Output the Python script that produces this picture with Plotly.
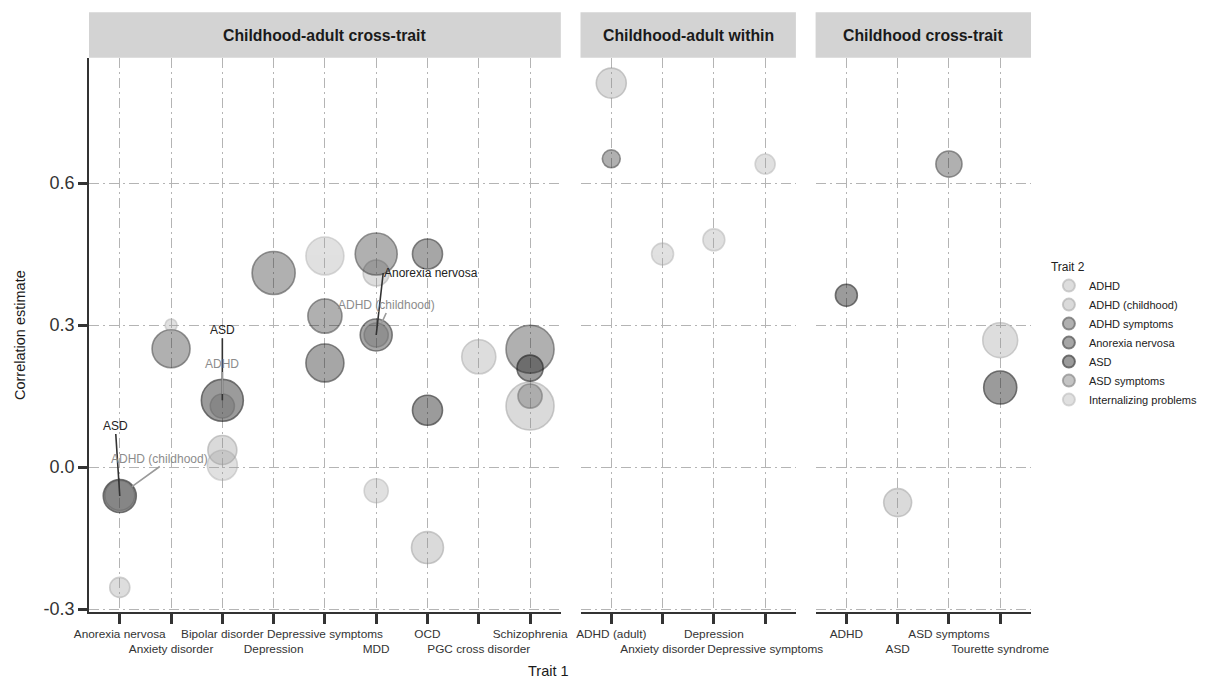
import plotly.graph_objects as go

# ---------------- data ----------------
panels = ["Childhood-adult cross-trait", "Childhood-adult within", "Childhood cross-trait"]
trait1_cross = ["Anorexia nervosa", "Anxiety disorder", "Bipolar disorder", "Depression",
                "Depressive symptoms", "MDD", "OCD", "PGC cross disorder", "Schizophrenia"]
trait1_within = ["ADHD (adult)", "Anxiety disorder", "Depression", "Depressive symptoms"]
trait1_child = ["ADHD", "ASD", "ASD symptoms", "Tourette syndrome"]
trait2_levels = ["ADHD", "ADHD (childhood)", "ADHD symptoms", "Anorexia nervosa",
                 "ASD", "ASD symptoms", "Internalizing problems"]

panel = [0, 0, 0,
         0, 0,
         0, 0, 0, 0,
         0,
         0, 0, 0,
         0, 0, 0, 0, 0,
         0, 0, 0,
         0,
         0, 0, 0, 0,
         1, 1, 1, 1, 1,
         2, 2, 2, 2, 2]
trait1 = ["Anorexia nervosa", "Anorexia nervosa", "Anorexia nervosa",
          "Anxiety disorder", "Anxiety disorder",
          "Bipolar disorder", "Bipolar disorder", "Bipolar disorder", "Bipolar disorder",
          "Depression",
          "Depressive symptoms", "Depressive symptoms", "Depressive symptoms",
          "MDD", "MDD", "MDD", "MDD", "MDD",
          "OCD", "OCD", "OCD",
          "PGC cross disorder",
          "Schizophrenia", "Schizophrenia", "Schizophrenia", "Schizophrenia",
          "ADHD (adult)", "ADHD (adult)", "Anxiety disorder", "Depression", "Depressive symptoms",
          "ADHD", "ASD", "ASD symptoms", "Tourette syndrome", "Tourette syndrome"]
trait2 = ["ADHD", "ADHD (childhood)", "ASD",
          "ADHD symptoms", "Internalizing problems",
          "ADHD (childhood)", "Internalizing problems", "ASD", "ADHD",
          "ADHD symptoms",
          "Internalizing problems", "ADHD symptoms", "Anorexia nervosa",
          "ADHD symptoms", "ADHD", "Anorexia nervosa", "ADHD (childhood)", "Internalizing problems",
          "Anorexia nervosa", "ASD", "ADHD (childhood)",
          "ADHD",
          "ADHD symptoms", "ADHD (childhood)", "ASD", "ASD symptoms",
          "ADHD (childhood)", "ADHD symptoms", "Internalizing problems", "Internalizing problems",
          "Internalizing problems",
          "ASD", "ADHD (childhood)", "ADHD symptoms", "ADHD", "ASD"]
estimate = [-0.254, -0.06, -0.061,
            0.25, 0.30,
            0.036, 0.004, 0.141, 0.129,
            0.41,
            0.446, 0.319, 0.22,
            0.45, 0.41, 0.279, 0.279, -0.05,
            0.45, 0.12, -0.17,
            0.233,
            0.249, 0.129, 0.209, 0.15,
            0.811, 0.651, 0.45, 0.48, 0.64,
            0.363, -0.075, 0.64, 0.268, 0.168]
weight = [4.0, 9.0, 10.9,
          14.4, 1.44,
          8.4, 9.0, 17.6, 5.8,
          18.5,
          14.4, 11.6, 14.4,
          17.6, 6.8, 10.2, 5.8, 5.8,
          9.0, 9.0, 10.2,
          11.6,
          23.0, 23.0, 6.8, 5.8,
          9.0, 3.2, 4.8, 4.8, 4.0,
          4.8, 7.8, 6.8, 12.2, 10.9]

# labelled (overlapping) points: trait1, trait2, estimate
labels_t1 = ["Anorexia nervosa", "Anorexia nervosa", "Bipolar disorder", "Bipolar disorder", "MDD", "MDD"]
labels_t2 = ["ASD", "ADHD (childhood)", "ASD", "ADHD", "Anorexia nervosa", "ADHD (childhood)"]
labels_y = [-0.061, -0.06, 0.141, 0.129, 0.279, 0.279]

# ---------------- styles ----------------
FONT = "Liberation Sans, Arial, Helvetica, sans-serif"
fill = {
    "ADHD": "rgba(150,150,150,0.45)",
    "ADHD (childhood)": "rgba(140,140,140,0.45)",
    "ADHD symptoms": "rgba(40,40,40,0.52)",
    "Anorexia nervosa": "rgba(30,30,30,0.56)",
    "ASD": "rgba(20,20,20,0.60)",
    "ASD symptoms": "rgba(90,90,90,0.50)",
    "Internalizing problems": "rgba(160,160,160,0.45)",
}
edge = {
    "ADHD": "rgba(150,150,150,0.65)",
    "ADHD (childhood)": "rgba(140,140,140,0.65)",
    "ADHD symptoms": "rgba(40,40,40,0.72)",
    "Anorexia nervosa": "rgba(25,25,25,0.78)",
    "ASD": "rgba(10,10,10,0.80)",
    "ASD symptoms": "rgba(90,90,90,0.70)",
    "Internalizing problems": "rgba(160,160,160,0.60)",
}
label_color = {"ASD": "#222222", "Anorexia nervosa": "#222222",
               "ADHD": "#8c8c8c", "ADHD (childhood)": "#8c8c8c"}
# label placement (pixel offsets of label from its point), style only
label_style = [
    dict(ax=-4, ay=-62, xanchor="center", yanchor="bottom", standoff=0),
    dict(ax=40, ay=-29, xanchor="center", yanchor="bottom", standoff=15),
    dict(ax=0, ay=-62, xanchor="center", yanchor="bottom", standoff=0),
    dict(ax=0, ay=-34, xanchor="center", yanchor="bottom", standoff=12),
    dict(ax=7, ay=-62, xanchor="left", yanchor="middle", standoff=0),
    dict(ax=10, ay=-22, xanchor="center", yanchor="bottom", standoff=13),
]

cats = [trait1_cross, trait1_within, trait1_child]
xnames = ["x", "x2", "x3"]
ynames = ["y", "y2", "y3"]

fig = go.Figure()
SIZEREF = 0.02
for gi, g in enumerate(trait2_levels):
    shown = False
    for p in range(3):
        idx = [i for i in range(len(estimate)) if trait2[i] == g and panel[i] == p]
        if not idx:
            continue
        fig.add_trace(go.Scatter(
            x=[trait1[i] for i in idx],
            y=[estimate[i] for i in idx],
            mode="markers",
            name=g,
            legendgroup=g,
            legendrank=gi + 1,
            showlegend=not shown,
            xaxis=xnames[p], yaxis=ynames[p],
            marker=dict(size=[weight[i] for i in idx], sizemode="area", sizeref=SIZEREF,
                        color=fill[g], line=dict(color=edge[g], width=1.6)),
            hovertemplate="%{x}<br>" + g + ": %{y}<extra></extra>",
        ))
        shown = True

# panel domains (free space facets)
gap = 0.0209
nunits = [len(c) - 1 + 1.2 for c in cats]
unit = (1 - 2 * gap) / sum(nunits)
domains = []
start = 0.0
for n in nunits:
    domains.append([start, start + n * unit])
    start += n * unit + gap
domains[-1][1] = 1.0

YR = [-0.306, 0.864]
GRID = "#b4b4b4"
DASH = "10px,4px,2px,4px"

layout = dict(
    width=1224, height=681,
    margin=dict(l=89, r=193, t=58, b=69, autoexpand=False),
    paper_bgcolor="white", plot_bgcolor="white",
    font=dict(family=FONT, color="#333333"),
    showlegend=True,
    legend=dict(
        title=dict(text="Trait 2", font=dict(size=12, color="#222222")),
        x=1.019, xanchor="left", y=0.5, yanchor="middle",
        font=dict(size=11, color="#222222"),
        itemsizing="constant", bgcolor="rgba(0,0,0,0)",
        tracegroupgap=0,
    ),
)
for p in range(3):
    xa = "xaxis" if p == 0 else f"xaxis{p+1}"
    ya = "yaxis" if p == 0 else f"yaxis{p+1}"
    ticktext = [("<br>" + c) if k % 2 == 1 else c for k, c in enumerate(cats[p])]
    layout[xa] = dict(
        domain=domains[p], anchor=ynames[p], type="category",
        categoryorder="array", categoryarray=cats[p],
        range=[-0.6, len(cats[p]) - 1 + 0.6],
        tickvals=cats[p], ticktext=ticktext, tickangle=0, automargin=False,
        showgrid=True, gridcolor=GRID, gridwidth=1, griddash=DASH,
        ticks="outside", ticklen=10, tickwidth=3, tickcolor="#333333",
        showline=True, linecolor="#333333", linewidth=1.5,
        tickfont=dict(size=11.8, color="#333333"),
        zeroline=False, fixedrange=True,
    )
    ydict = dict(
        domain=[0, 1], anchor=xnames[p], range=YR, automargin=False,
        tickvals=[-0.3, 0.0, 0.3, 0.6], ticktext=["-0.3", "0.0", "0.3", "0.6"],
        showgrid=True, gridcolor=GRID, gridwidth=1, griddash=DASH,
        zeroline=False, fixedrange=True,
    )
    if p == 0:
        ydict.update(ticks="outside", ticklen=9, tickwidth=3, tickcolor="#333333",
                     showline=True, linecolor="#333333", linewidth=1.5,
                     tickfont=dict(size=18, color="#333333"))
    else:
        ydict.update(matches="y", showticklabels=False, ticks="", showline=False)
    layout[ya] = ydict

shapes = []
annotations = []
strip_top = 1 + (58 - 12.3) / 554
for p in range(3):
    shapes.append(dict(type="rect", xref="paper", yref="paper",
                       x0=domains[p][0], x1=domains[p][1], y0=1.0005, y1=strip_top,
                       fillcolor="#d3d3d3", line=dict(width=0), layer="below"))
    annotations.append(dict(text="<b>" + panels[p] + "</b>", xref="paper", yref="paper",
                            x=(domains[p][0] + domains[p][1]) / 2, y=(1 + strip_top) / 2,
                            xanchor="center", yanchor="middle", showarrow=False,
                            font=dict(size=15.8, color="#1a1a1a", family=FONT)))

annotations.append(dict(text="Correlation estimate", xref="paper", yref="paper",
                        x=(20 - 89) / 942, y=0.5, textangle=-90, showarrow=False,
                        xanchor="center", yanchor="middle",
                        font=dict(size=14.5, color="#1a1a1a")))
annotations.append(dict(text="Trait 1", xref="paper", yref="paper",
                        x=(548 - 89) / 942, y=(612 - 671) / 554, showarrow=False,
                        xanchor="center", yanchor="middle",
                        font=dict(size=14.5, color="#1a1a1a")))

for k in range(len(labels_t1)):
    st = label_style[k]
    col = label_color[labels_t2[k]]
    annotations.append(dict(
        text=labels_t2[k], xref="x", yref="y", x=labels_t1[k], y=labels_y[k],
        showarrow=True, arrowhead=0, arrowwidth=1.6,
        arrowcolor=("#333333" if col == "#222222" else "#9a9a9a"),
        ax=st["ax"], ay=st["ay"], xanchor=st["xanchor"], yanchor=st["yanchor"],
        standoff=st["standoff"], borderpad=0,
        font=dict(size=12, color=col, family=FONT),
    ))

layout["shapes"] = shapes
layout["annotations"] = annotations
fig.update_layout(**layout)

fig.write_html("out.html", config={"displayModeBar": False},
               post_script="document.body.style.margin='0px';document.body.style.overflow='hidden';")
